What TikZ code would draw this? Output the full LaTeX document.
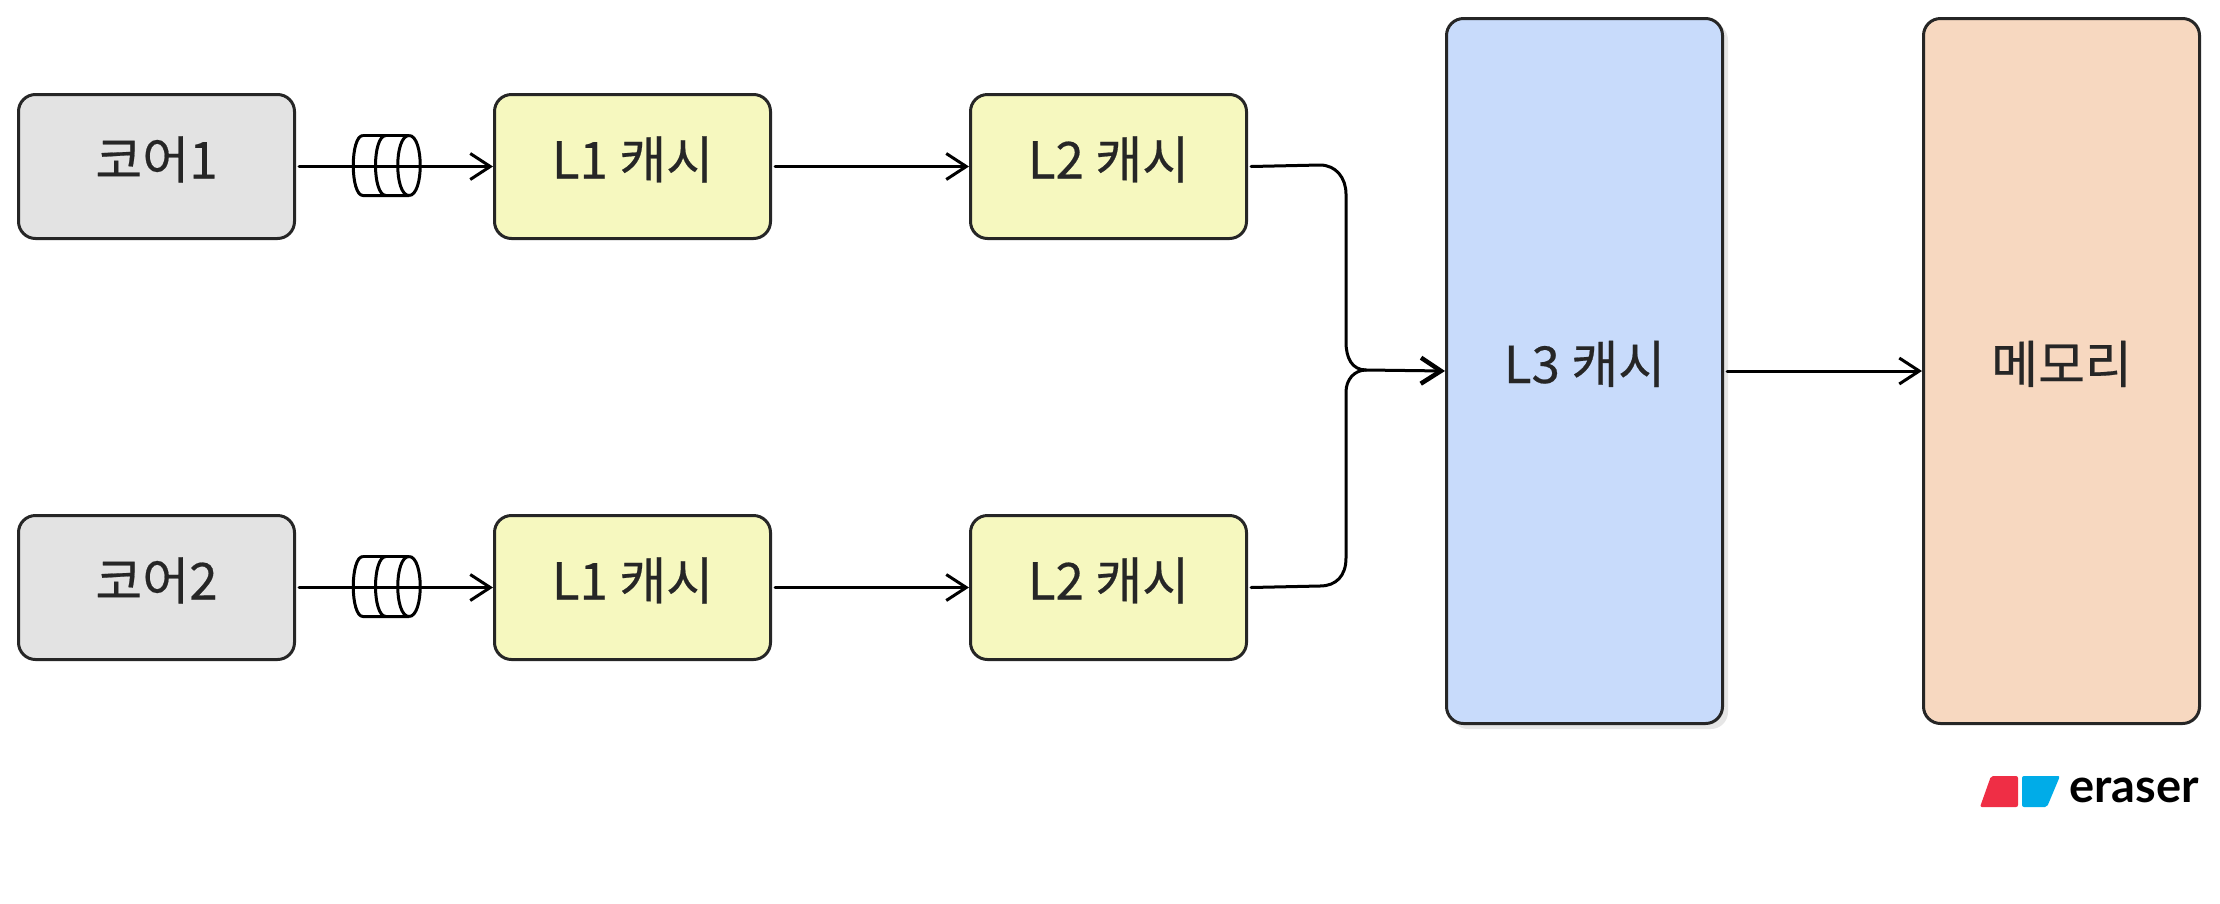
\documentclass[tikz,border=0pt]{standalone}
\usepackage{fontspec}
\setmainfont[FakeBold=0.4]{Noto Sans CJK KR}
\newfontfamily\latinfont{Lato}
\usetikzlibrary{arrows.meta}
\definecolor{ink}{HTML}{262626}
\definecolor{coregray}{HTML}{E3E3E3}
\definecolor{cacheyellow}{HTML}{F6F8BF}
\definecolor{cacheblue}{HTML}{C8DBFB}
\definecolor{mempeach}{HTML}{F7D8C0}
\definecolor{logored}{HTML}{EF2E45}
\definecolor{logoblue}{HTML}{00ACE8}
\definecolor{shadowgray}{HTML}{E6E6E6}
\newcommand{\lift}[1]{\raisebox{-12pt}[0pt][0pt]{#1}}
\tikzset{
  x=1pt,y=-1pt,
  boxbase/.style={draw=ink,line width=3pt,rounded corners=17pt,anchor=north west,inner sep=0pt,font=\fontsize{51}{55}\selectfont,text=ink},
  small/.style={boxbase,minimum width=276pt,minimum height=144pt},
  tall/.style={boxbase,minimum width=276pt,minimum height=705pt},
  wire/.style={draw=black,line width=3pt,line cap=round,-{Straight Barb[length=20pt,width=26pt,line width=3pt]}},
  heavywire/.style={draw=black,line width=3pt,line cap=round,-{Straight Barb[length=20pt,width=26pt,line width=4.5pt]}},
  plainwire/.style={draw=black,line width=3pt,line cap=round},
  queue/.style={draw=black,line width=3pt},
}
\begin{document}
\begin{tikzpicture}
\useasboundingbox (0,0) rectangle (2220,903);
\fill[shadowgray,rounded corners=17pt] (1451,23) rectangle (1728,729);
\node[small,fill=coregray] (core1) at (17,93) {\lift{코어1}};
\node[small,fill=coregray] (core2) at (17,514) {\lift{코어2}};
\node[small,fill=cacheyellow] (l1a) at (493,93) {\lift{L1 캐시}};
\node[small,fill=cacheyellow] (l1b) at (493,514) {\lift{L1 캐시}};
\node[small,fill=cacheyellow] (l2a) at (969,93) {\lift{L2 캐시}};
\node[small,fill=cacheyellow] (l2b) at (969,514) {\lift{L2 캐시}};
\node[tall,fill=cacheblue] (l3) at (1445,17) {\lift{L3 캐시}};
\node[tall,fill=mempeach] (mem) at (1922,17) {\lift{메모리}};
\coordinate (j) at (1366,370);
\draw[wire] ([xshift=3pt]core1.east) -- (l1a.west);
\draw[wire] ([xshift=3pt]core2.east) -- (l1b.west);
\draw[wire] ([xshift=3pt]l1a.east) -- (l2a.west);
\draw[wire] ([xshift=3pt]l1b.east) -- (l2b.west);
\draw[plainwire] ([xshift=3pt]l2a.east) -- (1320,165) .. controls (1336,165) and (1346,178) .. (1346,194) -- (1346,342) .. controls (1346,358) and (1352,370) .. (j);
\draw[plainwire] ([xshift=3pt]l2b.east) -- (1320,586) .. controls (1336,586) and (1346,576) .. (1346,558) -- (1346,392) .. controls (1346,380) and (1354,370) .. (j);
\draw[heavywire] (j) -- (l3.west);
\draw[wire] ([xshift=3pt]l3.east) -- (mem.west);
\foreach \n/\yy in {a/165.5,b/586.5}{
  \begin{scope}[shift={(0,\yy)}]
    \draw[queue] (363,-30) .. controls (350,-30) and (350,30) .. (363,30) -- (409,30);
    \draw[queue] (363,-30) -- (409,-30);
    \draw[queue] (386,-30) .. controls (372,-30) and (372,30) .. (386,30);
    \draw[queue] (409,-30) .. controls (394,-30) and (394,30) .. (409,30);
    \draw[queue] (409,-30) .. controls (424,-30) and (424,30) .. (409,30);
  \end{scope}
}
\fill[logored,rounded corners=2pt] (1991,776) -- (2018,776) -- (2018,807) -- (1980,807) -- cycle;
\fill[logoblue,rounded corners=2pt] (2022,776) -- (2060,776) -- (2047,807) -- (2022,807) -- cycle;
\node[anchor=west,inner sep=0pt,text=black,font=\latinfont\bfseries\fontsize{47}{50}\selectfont] (logo) at (2069,790) {eraser};
\end{tikzpicture}
\end{document}
